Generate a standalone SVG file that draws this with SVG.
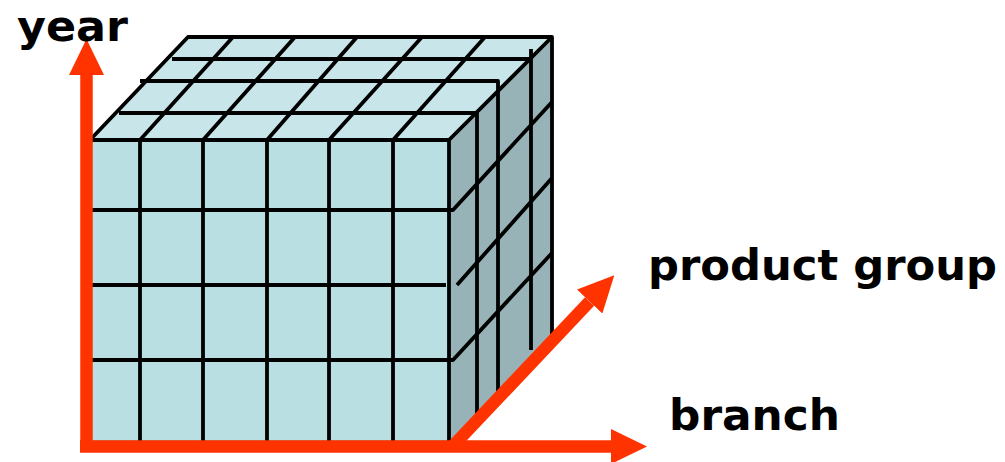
<svg xmlns="http://www.w3.org/2000/svg" width="1005" height="462" viewBox="0 0 1005 462">
  <style>
    .grid { fill: none; stroke: #000; stroke-width: 3.8; stroke-linejoin: round; stroke-linecap: butt; }
    .edge { fill: none; stroke: #000; stroke-width: 3.8; stroke-linejoin: round; }
    .front { fill: #BADFE2; stroke: #6f8a8d; stroke-width: 1; }
    .top { fill: #C8E6E9; stroke: #6f8a8d; stroke-width: 1; }
    .side { fill: #97B3B7; stroke: #6f8a8d; stroke-width: 1; }
    .axis { fill: none; stroke: #FF3300; stroke-width: 12.5; marker-end: url(#head); }
    .label { font-family: "Comic Sans MS", "DejaVu Sans", sans-serif; font-weight: bold; font-size: 43px; fill: #000; }
  </style>
  <defs>
    <marker id="head" viewBox="0 0 36 35" refX="0" refY="17.5" markerWidth="36" markerHeight="35" markerUnits="userSpaceOnUse" orient="auto">
      <path d="M0,0 L36,17.5 L0,35 Z" fill="#FF3300"/>
    </marker>
  </defs>

  <g id="cube">
    <polygon class="side" points="449,140 552,37 552,338 452,446 449,446"/>
    <polygon class="top" points="90,140 188,37 552,37 449,140"/>
    <rect class="front" x="88" y="140" width="361" height="301"/>

    <!-- top face grid -->
    <path class="grid" d="M140,140 L233,37 M203,140 L295,37 M267,140 L357,37 M329,140 L422,37 M393,140 L485,37"/>
    <path class="grid" d="M172,59 H531 M531,49 V350"/>
    <path class="grid" d="M140,81 H498 V398"/>
    <path class="grid" d="M119,113 H477 V420"/>

    <!-- front face grid -->
    <path class="grid" d="M140,140 V441 M203,140 V441 M267,140 V441 M329,140 V441 M393,140 V441"/>
    <path class="grid" d="M92,210 H453 L552,102"/>
    <path class="grid" d="M92,285 H446 M457,285 L552,178"/>
    <path class="grid" d="M92,360 H453 L552,253"/>

    <!-- cube edges -->
    <path class="edge" d="M90,140 L188,37 H552 V338 M90,140 H449 V441 M449,140 L552,37"/>
  </g>

  <g id="connectors">
    <line class="axis" x1="86.5" y1="452" x2="86.5" y2="75"/>
    <line class="axis" x1="80" y1="446.5" x2="611" y2="446.5"/>
    <line class="axis" x1="452" y1="447" x2="589.6" y2="301.5"/>
  </g>

  <g id="label-year">
    <text class="label" x="17" y="41" textLength="111" lengthAdjust="spacingAndGlyphs">year</text>
  </g>
  <g id="label-product-group">
    <text class="label" x="648" y="280" textLength="349" lengthAdjust="spacingAndGlyphs">product group</text>
  </g>
  <g id="label-branch">
    <text class="label" x="669" y="430" textLength="171" lengthAdjust="spacingAndGlyphs">branch</text>
  </g>
</svg>
